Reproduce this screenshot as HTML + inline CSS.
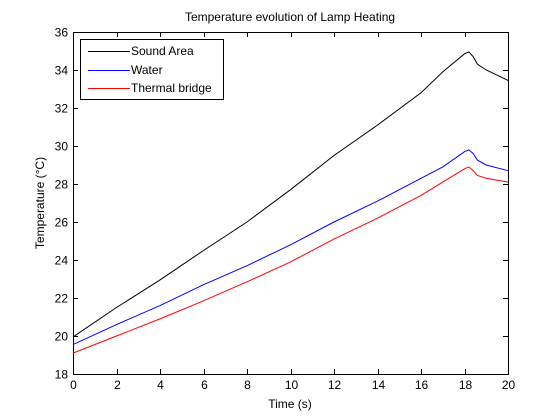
<!DOCTYPE html>
<html><head><meta charset="utf-8"><style>
html,body{margin:0;padding:0;background:#fff;}
svg{display:block;font-family:"Liberation Sans",sans-serif;}
</style></head><body>
<svg id="c" width="560" height="420"></svg>
<script>
const times=[0,2,4,6,8,10,12,14,16,17,18.0,18.2,18.4,18.6,19,20];
const soundArea=[19.95,21.5,22.95,24.5,26.0,27.7,29.5,31.1,32.8,33.9,34.85,34.95,34.7,34.3,34.0,33.45];
const water=[19.55,20.6,21.6,22.7,23.7,24.8,26.0,27.1,28.3,28.9,29.7,29.8,29.6,29.25,29.0,28.7];
const thermal=[19.1,20.0,20.9,21.85,22.85,23.9,25.1,26.2,27.4,28.1,28.8,28.9,28.7,28.45,28.3,28.1];
const xTicks=[0,2,4,6,8,10,12,14,16,18,20];
const yTicks=[18,20,22,24,26,28,30,32,34,36];
const L=73,R=508,T=32,B=374;
const sx=v=>L+(v-0)/20*(R-L);
const sy=v=>B-(v-18)/18*(B-T);
const svg=document.getElementById('c');
const NS='http://www.w3.org/2000/svg';
function mk(tag,at,txt){const e=document.createElementNS(NS,tag);for(const k in at)e.setAttribute(k,at[k]);if(txt!==undefined)e.textContent=txt;svg.appendChild(e);return e;}
let e=mk('rect',{x:L+0.5,y:T+0.5,width:R-L,height:B-T,fill:'#fff',stroke:'#000','stroke-width':1});


xTicks.forEach(t=>{const x=Math.round(sx(t))+0.5;
 let a=mk('path',{d:`M${x} ${B}V${B-5}M${x} ${T}V${T+5}`,stroke:'#000'});
 
 
 let b=mk('text',{x:x,y:B+15,'font-size':12,'text-anchor':'middle'},t);
 
 });
yTicks.forEach(t=>{const y=Math.round(sy(t))+0.5;
 let a=mk('path',{d:`M${L} ${y}H${L+5}M${R} ${y}H${R-5}`,stroke:'#000'});
 
 
 let b=mk('text',{x:L-5,y:y+4,'font-size':12,'text-anchor':'end'},t);
 
 });
[[soundArea,'#000000','sound-area-line'],[water,'#0000ff','water-line'],[thermal,'#ff0000','thermal-bridge-line']].forEach(([d,c,n])=>{
 const p=mk('polyline',{points:times.map((t,i)=>sx(t)+','+sy(d[i])).join(' '),fill:'none',stroke:c,'stroke-width':1});
 
 });
e=mk('text',{x:290,y:21,'font-size':12,'text-anchor':'middle'},'Temperature evolution of Lamp Heating');


e=mk('text',{x:290,y:408,'font-size':12,'text-anchor':'middle'},'Time (s)');


e=mk('text',{x:0,y:0,'font-size':12,'text-anchor':'middle',transform:'translate(44,203) rotate(-90)'},'Temperature (°C)');


e=mk('rect',{x:80.5,y:39.5,width:143,height:60,fill:'#fff',stroke:'#000'});


[['Sound Area','#000000',51],['Water','#0000ff',70],['Thermal bridge','#ff0000',88]].forEach(([n,c,y])=>{
 let l=mk('path',{d:`M88 ${y+0.5}H130`,stroke:c,'stroke-width':1,fill:'none'});
 
 
 let t=mk('text',{x:131,y:y+4,'font-size':12},n);
 
 });
</script>
</body></html>
